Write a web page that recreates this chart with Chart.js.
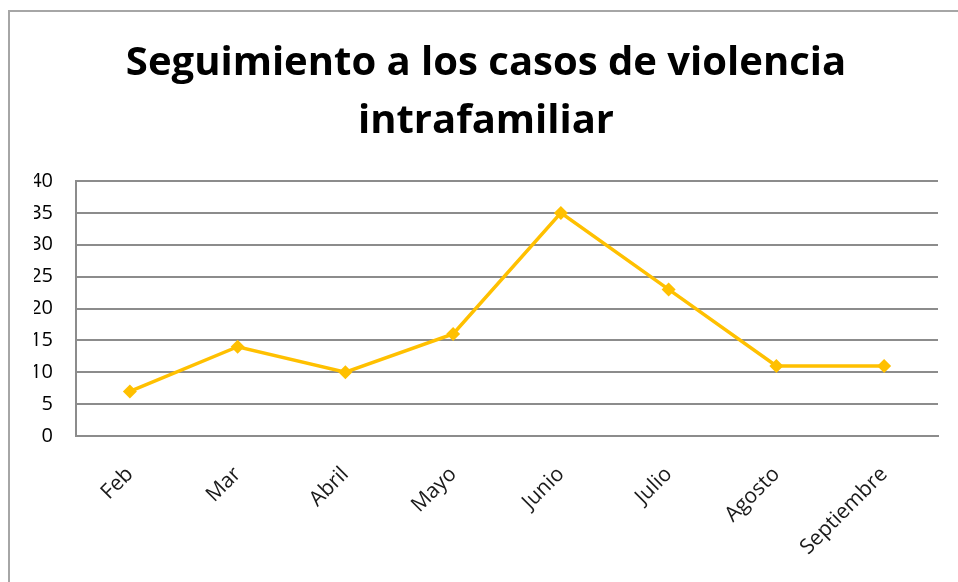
<!DOCTYPE html>
<html>
<head>
<meta charset="utf-8">
<script src="https://cdn.jsdelivr.net/npm/chart.js@4.4.1/dist/chart.umd.min.js"></script>
<style>
  html, body { margin: 0; padding: 0; background: #fff; }
  #wrap { position: relative; width: 958px; height: 582px; }
  #frame {
    position: absolute; left: 8px; top: 10px; right: 0; bottom: 0;
    border-top: 2px solid #a6a6a6; border-left: 2px solid #a6a6a6;
    pointer-events: none;
  }
  canvas { position: absolute; left: 0; top: 0; }
</style>
</head>
<body>
<div id="wrap">
  <canvas id="chart" width="958" height="582"></canvas>
  <div id="frame"></div>
</div>
<script>
// Chart data
const titleLines = ['Seguimiento a los casos de violencia', 'intrafamiliar'];
const months = ['Feb', 'Mar', 'Abril', 'Mayo', 'Junio', 'Julio', 'Agosto', 'Septiembre'];
const casos = [7, 14, 10, 16, 35, 23, 11, 11];
const yTicks = [0, 5, 10, 15, 20, 25, 30, 35, 40];

const gridGray = '#8c8c8c';
const lineGold = '#FFC000';

// fit the title's first line to about 720px wide
const measure = document.createElement('canvas').getContext('2d');
measure.font = 'bold 36px "Open Sans"';
const titleSize = Math.round(36 * 720 / measure.measureText(titleLines[0]).width);

new Chart(document.getElementById('chart').getContext('2d'), {
  type: 'line',
  data: {
    labels: months,
    datasets: [{
      label: 'Casos',
      data: casos,
      borderColor: lineGold,
      backgroundColor: lineGold,
      borderWidth: 3.5,
      pointStyle: 'rectRot',
      pointRadius: 7,
      pointBorderWidth: 0,
      tension: 0
    }]
  },
  options: {
    responsive: false,
    animation: false,
    layout: { padding: { left: 34, right: 20, top: 0, bottom: 0 } },
    plugins: {
      legend: { display: false },
      tooltip: { enabled: false },
      title: {
        display: true,
        text: titleLines,
        color: '#000',
        font: { family: '"Open Sans"', weight: 'bold', size: titleSize, lineHeight: '58px' },
        padding: { top: 35, bottom: 30 }
      }
    },
    scales: {
      x: {
        offset: true,
        grid: { display: false, drawTicks: false },
        border: { display: true, color: gridGray, width: 2 },
        ticks: {
          color: '#1a1a1a',
          font: { family: '"Open Sans"', size: 21 },
          maxRotation: 45,
          minRotation: 45,
          padding: 26,
          autoSkip: false
        },
        afterFit(scale) { scale.height = 146; }
      },
      y: {
        min: 0,
        max: 40,
        afterBuildTicks(scale) { scale.ticks = yTicks.map(v => ({ value: v })); },
        grid: { color: gridGray, lineWidth: 2, drawTicks: false },
        border: { display: true, color: gridGray, width: 2 },
        ticks: {
          color: '#000',
          font: { family: '"Open Sans"', size: 20 },
          padding: 23
        },
        afterFit(scale) { scale.width = 42; }
      }
    }
  }
});
</script>
</body>
</html>
